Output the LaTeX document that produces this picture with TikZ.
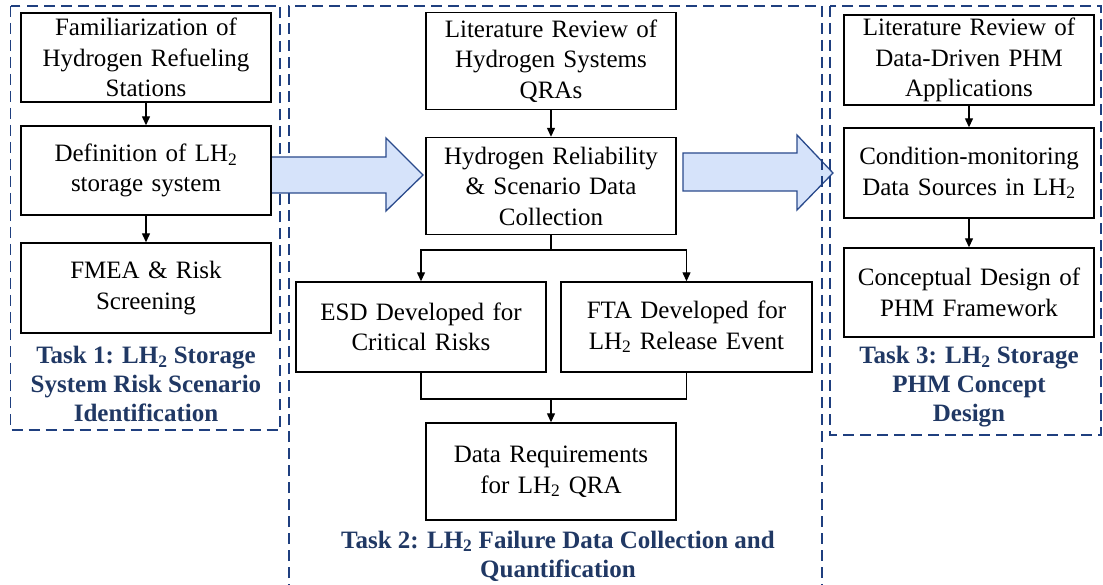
\documentclass[tikz,border=0pt]{standalone}
\usepackage{fontspec}
\setmainfont{Liberation Serif}
\usetikzlibrary{arrows.meta}
\definecolor{navy}{HTML}{203864}
\definecolor{framenavy}{HTML}{1F3F7F}
\definecolor{arrowfill}{HTML}{D6E3FA}
\definecolor{arrowline}{HTML}{2A4A8C}

\begin{document}
\begin{tikzpicture}[x=1pt,y=-1pt,
  stepbox/.style={draw=black, line width=1.4pt, rectangle, minimum width=250pt,
    minimum height=#1, text width=245pt, align=center, inner sep=0pt,
    font=\fontsize{25}{30.5}\selectfont},
  stepbox/.default=90pt,
  tasklabel/.style={text=navy, align=center, inner sep=0pt,
    font=\fontsize{25}{29}\selectfont\bfseries},
  taskframe/.style={draw=framenavy, line width=1.5pt, dash pattern=on 11pt off 6pt},
  link/.style={line width=1.3pt, -{Triangle[length=9pt,width=8pt]}},
  plain/.style={line width=1.3pt},
  bigarrow/.style={fill=arrowfill, draw=arrowline, line width=1.3pt, line join=miter}
]
\useasboundingbox (0,0) rectangle (1103,585);
\fill[white] (0,0) rectangle (1103,585);

% arrow from task 2 to task 3 (under the frames)
\draw[bigarrow] (683,153) -- (797,153) -- (797,135) -- (833,173) -- (797,210)
  -- (797,191) -- (683,191) -- cycle;

% task frames
\draw[taskframe] (10.5,6) rectangle (280,430);
\draw[taskframe] (289,595) -- (289,6) -- (822,6) -- (822,595);
\draw[taskframe] (830,6) rectangle (1101,435);

% arrow from task 1 to task 2
\draw[bigarrow] (271,157) -- (386,157) -- (386,138) -- (423,175) -- (386,211)
  -- (386,193) -- (271,193) -- cycle;

% Task 1
\node[stepbox=89pt] (f1) at (146,57.5) {Familiarization of\\Hydrogen Refueling\\Stations};
\node[stepbox=89pt] (f2) at (146,170.5) {Definition of LH\textsubscript{2}\\storage system};
\node[stepbox] (f3) at (146,288) {FMEA \& Risk\\Screening};
\node[tasklabel] (t1) at (146,384) {Task 1: LH\textsubscript{2} Storage\\System Risk Scenario\\Identification};

% Task 2
\node[stepbox=97pt] (l1) at (551,61) {Literature Review of\\Hydrogen Systems\\QRAs};
\node[stepbox=97pt] (l2) at (551,186) {Hydrogen Reliability\\\& Scenario Data\\Collection};
\node[stepbox] (esd) at (421,327) {ESD Developed for\\Critical Risks};
\node[stepbox, minimum width=251pt] (fta) at (686.5,327) {FTA Developed for\\LH\textsubscript{2} Release Event};
\node[stepbox=97pt] (dr) at (551,471.5) {Data Requirements\\for LH\textsubscript{2} QRA};
\node[tasklabel] (t2) at (558,556) {Task 2: LH\textsubscript{2} Failure Data Collection and\\Quantification};

% Task 3
\node[stepbox] (p1) at (969,60) {Literature Review of\\Data-Driven PHM\\Applications};
\node[stepbox] (p2) at (969,173) {Condition-monitoring\\Data Sources in LH\textsubscript{2}};
\node[stepbox=89pt] (p3) at (969,292.5) {Conceptual Design of\\PHM Framework};
\node[tasklabel] (t3) at (969,386.5) {Task 3: LH\textsubscript{2} Storage\\PHM Concept\\Design};

% connectors
\draw[link] (f1.south) -- (f2.north);
\draw[link] (f2.south) -- (f3.north);
\draw[link] (l1.south) -- (l2.north);
\draw[link] (p1.south) -- (p2.north);
\draw[link] (p2.south) -- (p3.north);

\draw[plain] (l2.south) -- (551,250) coordinate (split);
\draw[link] (split) -| (esd.north);
\draw[link] (split) -| (fta.north);

\coordinate (merge) at (551,399);
\draw[plain] (esd.south) |- (merge) -| (fta.south);
\draw[link] (merge) -- (dr.north);
\end{tikzpicture}
\end{document}
